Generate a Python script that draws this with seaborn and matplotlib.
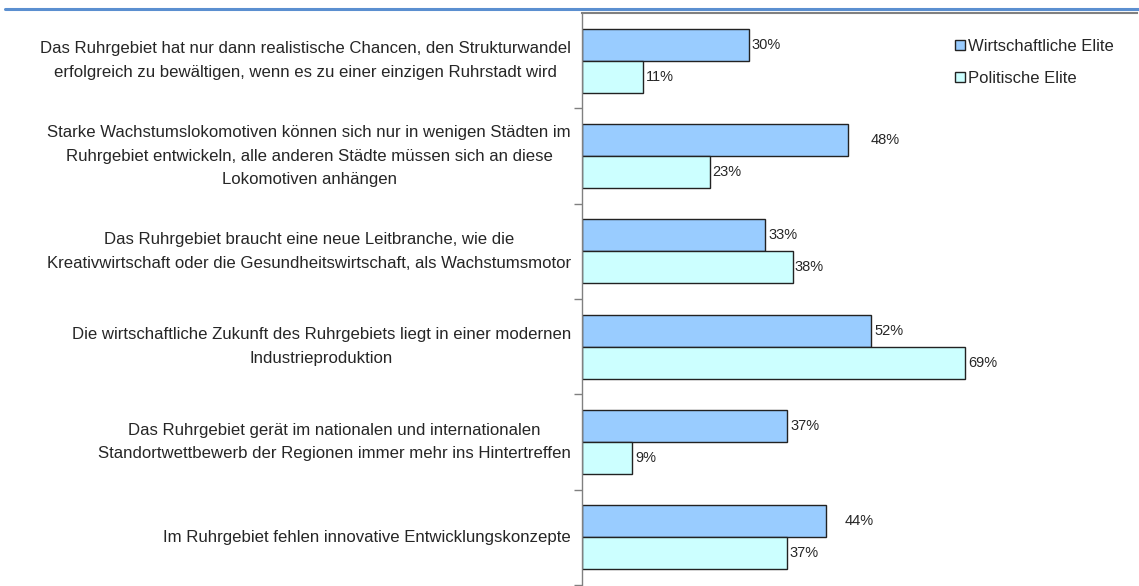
import matplotlib
matplotlib.use("Agg")
import matplotlib.pyplot as plt
from matplotlib.patches import Patch
from matplotlib.lines import Line2D
import seaborn as sns
import pandas as pd

statements = [
    "Das Ruhrgebiet hat nur dann realistische Chancen, den Strukturwandel\nerfolgreich zu bewältigen, wenn es zu einer einzigen Ruhrstadt wird",
    "Starke Wachstumslokomotiven können sich nur in wenigen Städten im\nRuhrgebiet entwickeln, alle anderen Städte müssen sich an diese\nLokomotiven anhängen",
    "Das Ruhrgebiet braucht eine neue Leitbranche, wie die\nKreativwirtschaft oder die Gesundheitswirtschaft, als Wachstumsmotor",
    "Die wirtschaftliche Zukunft des Ruhrgebiets liegt in einer modernen\nIndustrieproduktion",
    "Das Ruhrgebiet gerät im nationalen und internationalen\nStandortwettbewerb der Regionen immer mehr ins Hintertreffen",
    "Im Ruhrgebiet fehlen innovative Entwicklungskonzepte",
]
groups = ["Wirtschaftliche Elite", "Politische Elite"]
wirtschaft = [30, 48, 33, 52, 37, 44]
politik = [11, 23, 38, 69, 9, 37]

colors = ["#99CCFF", "#CCFFFF"]
# label offsets in pixels
pad_w = [3, 22, 3, 4, 3, 18]
pad_p = [3, 3, 2, 3, 3, 2]

df = pd.DataFrame({
    "statement": statements * 2,
    "value": wirtschaft + politik,
    "group": [groups[0]] * 6 + [groups[1]] * 6,
})

sns.set_style("white")
plt.rcParams["font.family"] = ["Liberation Sans", "DejaVu Sans"]

fig = plt.figure(figsize=(11.39, 5.86), dpi=100)
ax = fig.add_axes([582 / 1139, 1 - 585 / 586, (1137 - 582) / 1139, (585 - 13) / 586])

sns.barplot(data=df, y="statement", x="value", hue="group", orient="h",
            palette=colors, saturation=1, edgecolor="#222222", linewidth=1.0, width=0.67,
            gap=0, dodge=True, ax=ax, legend=False)

ax.set_xlim(0, 100)
ax.set_ylim(5.5, -0.5)
ax.set_xlabel("")
ax.set_ylabel("")
ax.set_xticks([])

ax.set_yticks(range(6))
ax.set_yticklabels(statements, fontsize=12.1, multialignment="center", linespacing=1.74)
ax.tick_params(axis="y", which="major", length=0, pad=8)
for lbl in ax.get_yticklabels():
    lbl.set_va("center")
ax.set_yticks([k + 0.5 for k in range(6)], minor=True)
ax.tick_params(axis="y", which="minor", length=6, width=1, color="#808080", direction="out", left=True)

for s in ["right", "bottom"]:
    ax.spines[s].set_visible(False)
ax.spines["left"].set_color("#808080")
ax.spines["left"].set_linewidth(1)
ax.spines["top"].set_color("#808080")
ax.spines["top"].set_linewidth(1.5)

bw = 0.67 / 2
for i in range(6):
    ax.annotate(f"{wirtschaft[i]}%", xy=(wirtschaft[i], i - bw / 2), xytext=(pad_w[i] * 0.72, 0),
                textcoords="offset points", va="center", ha="left", fontsize=10.5)
    ax.annotate(f"{politik[i]}%", xy=(politik[i], i + bw / 2), xytext=(pad_p[i] * 0.72, 0),
                textcoords="offset points", va="center", ha="left", fontsize=10.5)

handles = [Patch(facecolor=colors[k], edgecolor="#222222", linewidth=1) for k in range(2)]
fig.legend(handles, groups, loc="upper left", bbox_to_anchor=(955 / 1139, 1 - 39 / 586),
           frameon=False, fontsize=12, handlelength=0.6, handleheight=0.6,
           handletextpad=0.2, labelspacing=1.0, borderaxespad=0, borderpad=0)

fig.add_artist(Line2D([5 / 1139, 1], [1 - 9 / 586, 1 - 9 / 586], color="#5B8FD0", linewidth=2.2))

fig.savefig("out.png", dpi=100)
